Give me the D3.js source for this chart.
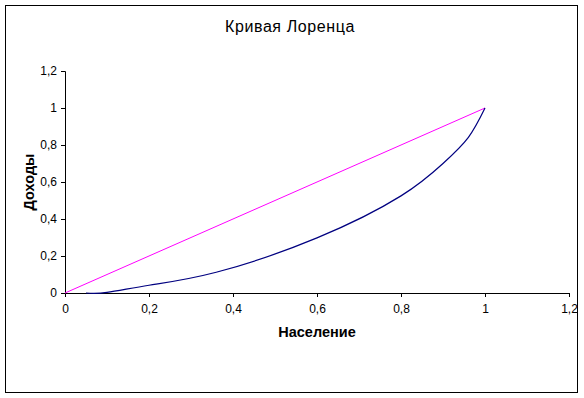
<!DOCTYPE html>
<html>
<head>
<meta charset="utf-8">
<script src="https://cdn.jsdelivr.net/npm/d3@7"></script>
<style>
  body { margin: 0; background: #fff; }
  text { font-family: "Liberation Sans", Arial, sans-serif; }
</style>
</head>
<body>
<svg id="svg1"></svg>
<script>
// data
var title = "Кривая Лоренца"
var xTitle = "Население"
var yTitle = "Доходы"
var ticks = [0, 0.2, 0.4, 0.6, 0.8, 1, 1.2]
// Lorenz curve (cumulative share of population vs income)
var popShare = [0.05, 0.1, 0.2, 0.36, 0.6, 0.8, 0.9, 0.96, 1]
var incShare = [0, 0.003, 0.042, 0.112, 0.298, 0.525, 0.7, 0.84, 1]
// line of equality
var eqX = [0, 1]
var eqY = [0, 1]

var W = 584, H = 398
var margin = {left: 65, top: 71, right: 15, bottom: 105}
var widthA = W - margin.left - margin.right
var heightA = H - margin.top - margin.bottom

var root = d3.select("#svg1")
  .attr("width", W)
  .attr("height", H)

// outer chart border
root.append("rect")
  .attr("x", 5.5).attr("y", 5.5)
  .attr("width", 572).attr("height", 387)
  .style("fill", "white")
  .style("stroke", "black")
  .style("stroke-width", 1)

var svg = root.append("g")
  .attr("transform", `translate(${margin.left},${margin.top})`)

var x = d3.scaleLinear().domain([0, 1.2]).range([0, widthA])
var y = d3.scaleLinear().domain([0, 1.2]).range([heightA, 0])
var fmt = d => String(d3.format("~g")(d)).replace(".", ",")

svg.append("g")
  .attr("transform", `translate(0,${heightA})`)
  .call(d3.axisBottom(x).tickValues(ticks).tickFormat(fmt).tickSize(4).tickPadding(7))
svg.append("g")
  .call(d3.axisLeft(y).tickValues(ticks).tickFormat(fmt).tickSize(4).tickPadding(4))

svg.selectAll(".tick text")
  .style("font-size", 12)
  .style("font-family", "Liberation Sans, Arial, sans-serif")
  .style("fill", "black")
svg.selectAll(".domain, .tick line").style("stroke", "black")

var line = d3.line()
  .x(d => x(d[0]))
  .y(d => y(d[1]))

svg.append("path")
  .datum(d3.zip(eqX, eqY))
  .attr("d", line)
  .style("fill", "none")
  .style("stroke", "#ff00ff")
  .style("stroke-width", 1)

svg.append("path")
  .datum(d3.zip(popShare, incShare))
  .attr("d", line.curve(d3.curveNatural))
  .style("fill", "none")
  .style("stroke", "#000080")
  .style("stroke-width", 1.2)

// titles
root.append("text")
  .text(title)
  .attr("x", 290).attr("y", 32)
  .style("text-anchor", "middle")
  .style("font-size", 16)
  .style("letter-spacing", "0.6px")

root.append("text")
  .text(xTitle)
  .attr("x", margin.left + widthA / 2).attr("y", 337)
  .style("text-anchor", "middle")
  .style("font-size", 14.5)
  .style("font-weight", "bold")

root.append("text")
  .text(yTitle)
  .attr("transform", `translate(34,${margin.top + heightA / 2}) rotate(-90)`)
  .style("text-anchor", "middle")
  .style("font-size", 14.5)
  .style("font-weight", "bold")
</script>
</body>
</html>
